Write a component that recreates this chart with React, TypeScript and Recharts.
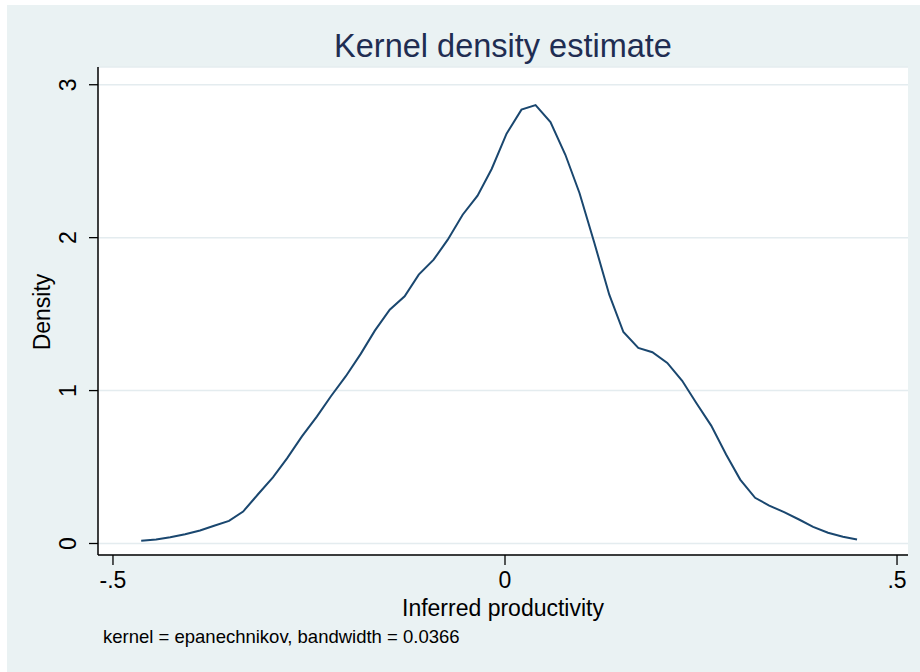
import React from "react";
import { LineChart, Line, XAxis, YAxis, CartesianGrid } from "recharts";

// evaluation points of the kernel density
const xs = [
  -0.464, -0.445, -0.427, -0.408, -0.389, -0.371, -0.352, -0.334, -0.315, -0.296,
  -0.278, -0.259, -0.24, -0.222, -0.203, -0.184, -0.166, -0.147, -0.128, -0.11,
  -0.091, -0.073, -0.054, -0.035, -0.017, 0.002, 0.021, 0.039, 0.058, 0.077,
  0.095, 0.114, 0.133, 0.151, 0.17, 0.188, 0.207, 0.226, 0.244, 0.263,
  0.282, 0.3, 0.319, 0.337, 0.356, 0.375, 0.393, 0.412, 0.431, 0.449,
];

const density = [
  0.018, 0.026, 0.041, 0.061, 0.085, 0.116, 0.148, 0.209, 0.322, 0.433,
  0.557, 0.7, 0.83, 0.963, 1.094, 1.24, 1.392, 1.529, 1.617, 1.758,
  1.856, 1.987, 2.15, 2.275, 2.449, 2.68, 2.837, 2.867, 2.756, 2.542,
  2.292, 1.965, 1.627, 1.383, 1.279, 1.251, 1.181, 1.064, 0.919, 0.771,
  0.582, 0.418, 0.299, 0.248, 0.205, 0.157, 0.109, 0.07, 0.044, 0.026,
];

const xTicks = [-0.5, 0, 0.5];
const xTickLabels = ["-.5", "0", ".5"];
const yTicks = [0, 1, 2, 3];
const yTickLabels = ["0", "1", "2", "3"];

const rows = xs.map((x, i) => ({ x, y: density[i] }));

const FONT = '"Liberation Sans", Arial, Helvetica, sans-serif';
const NAVY = "#1A476F";

const XTick = (props: any) => {
  const i = xTicks.indexOf(props.payload.value);
  return (
    <text x={props.x} y={588} textAnchor="middle" fontSize={23} fill="#000" fontFamily={FONT}>
      {xTickLabels[i]}
    </text>
  );
};

const YTick = (props: any) => {
  const i = yTicks.indexOf(props.payload.value);
  return (
    <text
      x={76}
      y={props.y}
      textAnchor="middle"
      fontSize={23}
      fill="#000"
      fontFamily={FONT}
      transform={`rotate(-90, 76, ${props.y})`}
    >
      {yTickLabels[i]}
    </text>
  );
};

export default function App() {
  return (
    <div
      style={{
        position: "fixed",
        left: 0,
        top: 0,
        width: 920,
        height: 672,
        background: "#fff",
        fontFamily: FONT,
      }}
    >
      {/* graph region background */}
      <div style={{ position: "absolute", left: 7, top: 5, width: 913, height: 667, background: "#EAF2F3" }} />

      <div style={{ position: "absolute", left: 0, top: 0 }}>
        <LineChart
          width={920}
          height={672}
          data={rows}
          margin={{ top: 67, right: 12, bottom: 116, left: 97 }}
        >
          <CartesianGrid vertical={false} fill="#fff" stroke="#E4ECEF" strokeWidth={1.5} />
          <XAxis
            type="number"
            dataKey="x"
            domain={[-0.5191, 0.514]}
            ticks={xTicks}
            allowDataOverflow
            height={1}
            tickSize={10}
            tickLine={{ stroke: "#000", strokeWidth: 1.3 }}
            axisLine={{ stroke: "#000", strokeWidth: 1.5 }}
            tick={XTick}
            interval={0}
          />
          <YAxis
            type="number"
            domain={[-0.0752, 3.116]}
            ticks={yTicks}
            allowDataOverflow
            width={1}
            tickSize={9}
            tickLine={{ stroke: "#000", strokeWidth: 1.3 }}
            axisLine={{ stroke: "#000", strokeWidth: 1.5 }}
            tick={YTick}
            interval={0}
          />
          <Line
            type="linear"
            dataKey="y"
            stroke={NAVY}
            strokeWidth={2}
            dot={false}
            isAnimationActive={false}
          />
        </LineChart>
      </div>

      {/* titles and note */}
      <svg width={920} height={672} style={{ position: "absolute", left: 0, top: 0, pointerEvents: "none" }}>
        <text x={503} y={57} textAnchor="middle" fontSize={32.5} fill="#1F2D52" fontFamily={FONT}>
          Kernel density estimate
        </text>
        <text x={503} y={616} textAnchor="middle" fontSize={23} fill="#000" fontFamily={FONT}>
          Inferred productivity
        </text>
        <text
          x={50}
          y={312}
          textAnchor="middle"
          fontSize={23}
          fill="#000"
          fontFamily={FONT}
          transform="rotate(-90, 50, 312)"
        >
          Density
        </text>
        <text x={103} y={643} fontSize={18.5} fill="#000" fontFamily={FONT}>
          kernel = epanechnikov, bandwidth = 0.0366
        </text>
      </svg>
    </div>
  );
}
